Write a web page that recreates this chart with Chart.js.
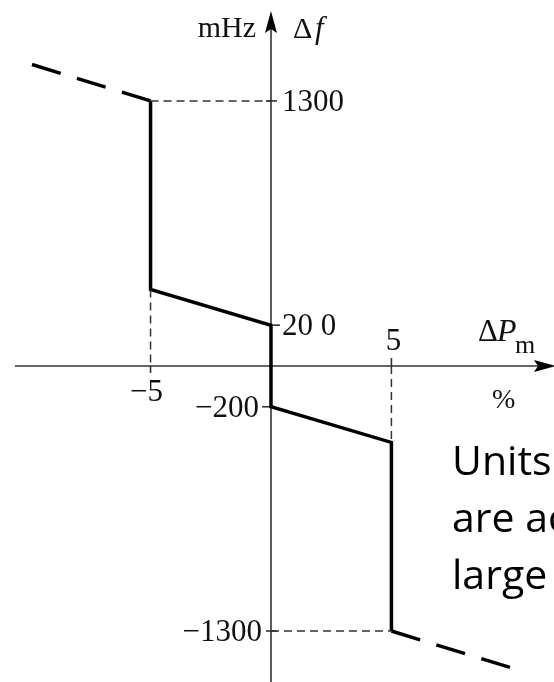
<!DOCTYPE html>
<html>
<head>
<meta charset="utf-8">
<title>Droop characteristic</title>
<script src="https://cdn.jsdelivr.net/npm/chart.js@4"></script>
<style>
  body { margin: 0; background: #fff; }
  canvas { display: block; }
</style>
</head>
<body>
<canvas id="droop-chart" width="554" height="682"></canvas>
<script>
//---------------------DATA--------------------------------------//
// droop curve: ΔPm in %, Δf in mHz
const droopX = [-5, -5, 0, 0, 5, 5];
const droopY = [1300, 375, 200, -200, -375, -1300];

// dashed continuation past the limits
const upperExtX = [-5, -10.1];
const upperExtY = [1300, 1485];
const lowerExtX = [5, 10.1];
const lowerExtY = [-1300, -1485];

// tick labels
const yTicks = [1300, 200, -200, -1300];
const yTickLabels = ['1300', '20 0', '\u2212200', '\u22121300'];
const xTicks = [-5, 5];
const xTickLabels = ['\u22125', '5'];

const noteLines = ['Units', 'are ac', 'large'];

//---------------------HELPERS--------------------------------------//
function toPoints(xs, ys) {
  return xs.map((x, i) => ({ x: x, y: ys[i] }));
}

const serif = '"Liberation Serif", "DejaVu Serif", serif';

function arrowHead(ctx, tipX, tipY, dir) {
  // dir: 'up' or 'right'
  ctx.save();
  ctx.translate(tipX, tipY);
  if (dir === 'right') ctx.rotate(Math.PI / 2);
  ctx.beginPath();
  ctx.moveTo(0, 0);
  ctx.lineTo(-6, 22);
  ctx.lineTo(0, 18);
  ctx.lineTo(6, 22);
  ctx.closePath();
  ctx.fillStyle = '#000';
  ctx.fill();
  ctx.restore();
}

//---------------------AXES PLUGIN--------------------------------------//
const axesPlugin = {
  id: 'crossAxes',
  beforeDatasetsDraw(chart) {
    const ctx = chart.ctx;
    const x = chart.scales.x;
    const y = chart.scales.y;
    const x0 = x.getPixelForValue(0);
    const y0 = y.getPixelForValue(0);

    ctx.save();
    ctx.strokeStyle = '#333';
    ctx.lineWidth = 1.6;

    // vertical axis
    ctx.beginPath();
    ctx.moveTo(x0, chart.height);
    ctx.lineTo(x0, 28);
    ctx.stroke();
    arrowHead(ctx, x0, 11, 'up');

    // horizontal axis
    ctx.beginPath();
    ctx.moveTo(15, y0);
    ctx.lineTo(540, y0);
    ctx.stroke();
    arrowHead(ctx, 556, y0, 'right');

    // y ticks
    yTicks.forEach(v => {
      const py = y.getPixelForValue(v);
      ctx.beginPath();
      if (v === 1300 || v === -1300) {
        ctx.moveTo(x0 - 5, py);
        ctx.lineTo(x0 + 6, py);
      } else if (v > 0) {
        ctx.moveTo(x0, py);
        ctx.lineTo(x0 + 9, py);
      } else {
        ctx.moveTo(x0 - 9, py);
        ctx.lineTo(x0, py);
      }
      ctx.stroke();
    });

    // x ticks
    xTicks.forEach(v => {
      const px = x.getPixelForValue(v);
      ctx.beginPath();
      if (v < 0) {
        ctx.moveTo(px, y0);
        ctx.lineTo(px, y0 + 7);
      } else {
        ctx.moveTo(px, y0 - 8);
        ctx.lineTo(px, y0);
      }
      ctx.stroke();
    });
    ctx.restore();
  },
  afterDatasetsDraw(chart) {
    const ctx = chart.ctx;
    const x = chart.scales.x;
    const y = chart.scales.y;
    const x0 = x.getPixelForValue(0);
    const y0 = y.getPixelForValue(0);

    ctx.save();
    ctx.fillStyle = '#111';
    ctx.textBaseline = 'middle';
    ctx.font = '31px ' + serif;

    // y tick labels: positives to the right, negatives to the left
    yTicks.forEach((v, i) => {
      const py = y.getPixelForValue(v) + 2;
      if (v > 0) {
        ctx.textAlign = 'left';
        ctx.fillText(yTickLabels[i], x0 + 11, py);
      } else {
        ctx.textAlign = 'right';
        ctx.fillText(yTickLabels[i], x0 - (v === -1300 ? 9 : 12), py);
      }
    });

    // x tick labels
    ctx.textAlign = 'center';
    xTicks.forEach((v, i) => {
      const px = x.getPixelForValue(v);
      if (v < 0) ctx.fillText(xTickLabels[i], px - 4, y0 + 27);
      else ctx.fillText(xTickLabels[i], px + 2, y0 - 24);
    });

    // axis titles
    ctx.textBaseline = 'alphabetic';
    ctx.font = '30px ' + serif;
    ctx.textAlign = 'right';
    ctx.fillText('mHz', x0 - 15, 37);
    ctx.textAlign = 'left';
    ctx.fillText('\u0394', x0 + 22, 38);
    ctx.font = 'italic 31px ' + serif;
    ctx.fillText('f', x0 + 44, 38);

    ctx.font = '31px ' + serif;
    ctx.fillText('\u0394', 478, y0 - 25);
    ctx.font = 'italic 32px ' + serif;
    ctx.fillText('P', 497, y0 - 25);
    ctx.font = '26px ' + serif;
    ctx.fillText('m', 515, y0 - 13);
    ctx.font = '28px ' + serif;
    ctx.fillText('%', 492, y0 + 42);

    // side note
    ctx.fillStyle = '#000';
    ctx.font = '41px "Open Sans", "Noto Sans", sans-serif';
    noteLines.forEach((t, i) => {
      ctx.fillText(t, 452, 475 + i * 57);
    });
    ctx.restore();
  }
};

//---------------------CHART--------------------------------------//
const guideStyle = {
  showLine: true,
  borderColor: '#333',
  borderWidth: 1.5,
  borderDash: [8, 5],
  pointRadius: 0
};

const droopChart = new Chart(document.getElementById('droop-chart'), {
  type: 'scatter',
  data: {
    datasets: [
      // thin dashed guides back to the axes
      Object.assign({ data: toPoints([-5, 0], [1300, 1300]) }, guideStyle),
      Object.assign({ data: toPoints([0, 5], [-1300, -1300]) }, guideStyle),
      Object.assign({ data: toPoints([-5, -5], [droopY[1], 0]) }, guideStyle),
      Object.assign({ data: toPoints([5, 5], [0, droopY[4]]) }, guideStyle),
      {
        data: toPoints(droopX, droopY),
        showLine: true,
        borderColor: '#000',
        borderWidth: 3.5,
        borderJoinStyle: 'miter',
        pointRadius: 0
      },
      {
        data: toPoints(upperExtX, upperExtY),
        showLine: true,
        borderColor: '#000',
        borderWidth: 3.5,
        borderDash: [30, 17],
        pointRadius: 0
      },
      {
        data: toPoints(lowerExtX, lowerExtY),
        showLine: true,
        borderColor: '#000',
        borderWidth: 3.5,
        borderDash: [30, 17],
        pointRadius: 0
      }
    ]
  },
  options: {
    responsive: false,
    animation: false,
    layout: { padding: 0 },
    plugins: { legend: { display: false }, tooltip: { enabled: false } },
    scales: {
      x: { type: 'linear', min: -11.25, max: 11.75, display: false },
      y: { type: 'linear', min: -1550, max: 1795, display: false }
    }
  },
  plugins: [axesPlugin]
});
</script>
</body>
</html>
